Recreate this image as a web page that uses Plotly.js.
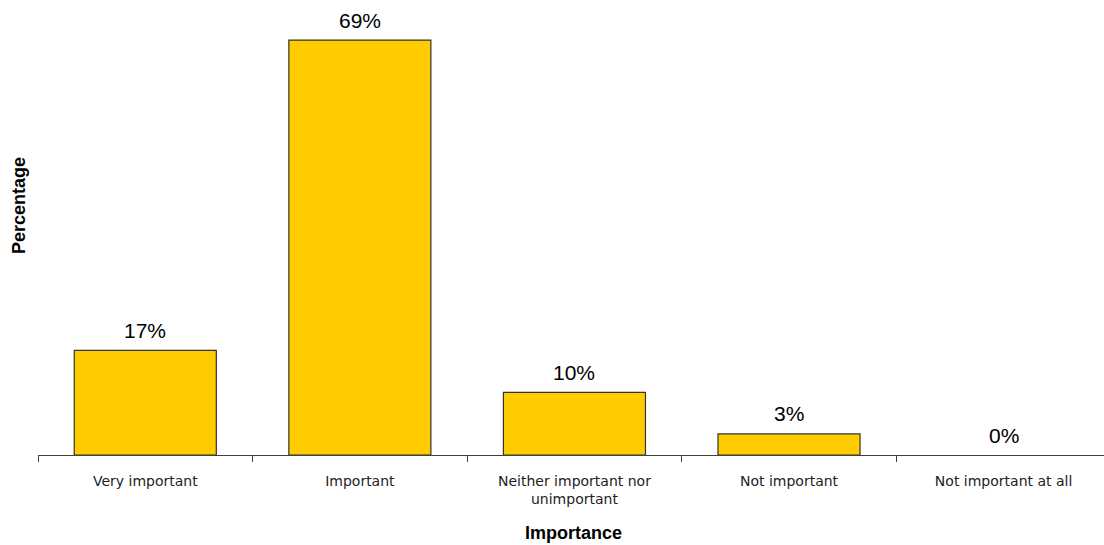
<!DOCTYPE html>
<html>
<head>
<meta charset="utf-8">
<script src="https://cdn.plot.ly/plotly-3.0.1.min.js"></script>
<style>html,body{margin:0;padding:0;background:#fff;}#chart{width:1104px;height:545px;}</style>
</head>
<body>
<div id="chart"></div>
<script>
const categories = ["Very important", "Important", "Neither important nor<br>unimportant", "Not important", "Not important at all"];
const percentages = [17.4, 69.0, 10.4, 3.5, 0];
const valueLabels = ["17%", "69%", "10%", "3%", "0%"];

const trace = {
  type: "bar",
  x: categories,
  y: percentages,
  marker: {
    color: "#FFCC00",
    line: {color: "#333333", width: percentages.map(v => v > 0 ? 1.2 : 0)}
  },
  width: 0.662,
  hoverinfo: "x+y"
};

const valueAnnotations = categories.map((c, i) => ({
  x: c, y: percentages[i], xref: "x", yref: "y",
  text: valueLabels[i],
  showarrow: false,
  yanchor: "middle",
  yshift: 20,
  font: {family: "Liberation Sans, Arial, sans-serif", size: 21, color: "#000"}
}));

const layout = {
  width: 1104,
  height: 545,
  margin: {l: 38, r: 0, t: 10, b: 90},
  paper_bgcolor: "#ffffff",
  plot_bgcolor: "#ffffff",
  showlegend: false,
  xaxis: {
    type: "category",
    range: [-0.5, 4.468],
    tickson: "boundaries",
    ticks: "outside",
    ticklen: 6,
    tickwidth: 1,
    tickcolor: "#404040",
    showline: true,
    linecolor: "#404040",
    linewidth: 1.2,
    showgrid: false,
    zeroline: false,
    ticklabelstandoff: 13,
    tickfont: {family: "DejaVu Sans, Tahoma, sans-serif", size: 14, color: "#222"},
    automargin: false
  },
  yaxis: {
    range: [0, 74],
    showticklabels: false,
    showgrid: false,
    zeroline: false,
    showline: false,
    ticks: "",
    automargin: false
  },
  annotations: valueAnnotations.concat([
    {
      text: "<b>Percentage</b>",
      xref: "paper", yref: "paper",
      x: -0.0178, xanchor: "center",
      y: 0.5596, yanchor: "middle",
      textangle: -90,
      showarrow: false,
      font: {family: "Liberation Sans, Arial, sans-serif", size: 18, color: "#000"}
    },
    {
      text: "<b>Importance</b>",
      xref: "paper", yref: "paper",
      x: 0.5028, xanchor: "center",
      y: -0.1753, yanchor: "middle",
      showarrow: false,
      font: {family: "Liberation Sans, Arial, sans-serif", size: 18, color: "#000"}
    }
  ])
};

Plotly.newPlot("chart", [trace], layout, {displayModeBar: false, staticPlot: true});
</script>
</body>
</html>
